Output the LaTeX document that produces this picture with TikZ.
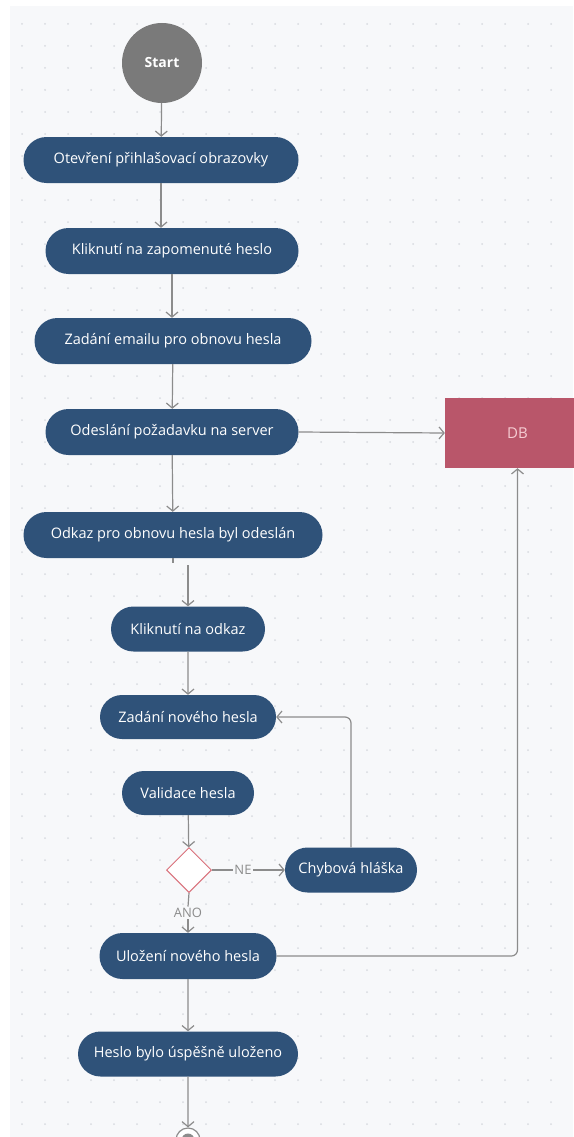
\documentclass[tikz,border=0pt]{standalone}
\usepackage{fontspec}
\setmainfont{Open Sans}
\usetikzlibrary{arrows.meta,shapes.geometric,shapes.misc}
\definecolor{boxblue}{HTML}{2F5279}
\definecolor{linegrey}{HTML}{8C8C8C}
\definecolor{startgrey}{HTML}{7A7A7A}
\definecolor{bggrey}{HTML}{F7F8FA}
\definecolor{dotgrey}{HTML}{D8DBE0}
\definecolor{dbred}{HTML}{B9566A}
\definecolor{dbtext}{HTML}{F6CDD3}
\definecolor{diared}{HTML}{D9707A}
\tikzset{
  stepbox/.style={rounded rectangle, fill=boxblue, text=white, font=\fontsize{14.5}{17}\selectfont, minimum height=46pt, inner xsep=6pt},
  conn/.style={draw=linegrey, line width=1.2pt, -{Straight Barb[length=5pt,width=12pt]}},
  plain/.style={draw=linegrey, line width=1.2pt},
  lbl/.style={text=linegrey, font=\fontsize{13}{15}\selectfont, inner sep=1.5pt}
}
\begin{document}
\begin{tikzpicture}[x=1pt,y=-1pt]
\useasboundingbox (0,0) rectangle (573,1137);
\fill[white] (0,0) rectangle (573,1137);
\fill[bggrey] (10,6) rectangle (573,1137);
\foreach \xx in {22,45,...,573}{
  \foreach \yy in {24,46,...,1137}{
    \fill[dotgrey] (\xx,\yy) circle (1pt);
  }
}
% nodes
\node[circle, fill=startgrey, minimum size=80pt, text=white, font=\fontsize{14}{16}\selectfont\bfseries] (start) at (162,63) {Start};
\node[stepbox, minimum width=287pt] (b1) at (161,160) {Otevření přihlašovací obrazovky};
\node[stepbox, minimum width=265pt] (b2) at (172,251) {Kliknutí na zapomenuté heslo};
\node[stepbox, minimum width=289pt] (b3) at (173,341) {Zadání emailu pro obnovu hesla};
\node[stepbox, minimum width=265pt] (b4) at (172,432) {Odeslání požadavku na server};
\node[rectangle, fill=dbred, text=dbtext, minimum width=145pt, minimum height=70pt, font=\fontsize{15}{17}\selectfont] (db) at (517.5,433) {DB};
\node[stepbox, minimum width=311pt] (b5) at (173,535) {Odkaz pro obnovu hesla byl odeslán};
\node[stepbox, minimum width=166pt, minimum height=45pt] (b6) at (188,629) {Kliknutí na odkaz};
\node[stepbox, minimum width=188pt, minimum height=44pt] (b7) at (188,717) {Zadání nového hesla};
\node[stepbox, minimum width=144pt, minimum height=44pt] (b8) at (188,793) {Validace hesla};
\node[diamond, draw=diared, fill=white, line width=1pt, minimum width=45pt, minimum height=45pt, inner sep=0pt] (dec) at (189,870) {};
\node[lbl] (ne) at (243,870) {NE};
\node[stepbox, minimum width=144pt, minimum height=45pt] (b9) at (351,870) {Chybová hláška};
\node[lbl] (ano) at (188,913) {ANO};
\node[stepbox, minimum width=189pt] (b10) at (188,956) {Uložení nového hesla};
\node[stepbox, minimum width=232pt, minimum height=45pt] (b11) at (188,1054) {Heslo bylo úspěšně uloženo};
\node[circle, draw=linegrey, line width=1.2pt, fill=white, minimum size=24pt, inner sep=0pt] (end) at (188,1140) {};
\node[circle, fill=linegrey, minimum size=13pt, inner sep=0pt] (endin) at (188,1140) {};
\coordinate (c6) at (188,565);
% connectors
\draw[conn] (start) -- (b1);
\draw[conn] (b1.south) -- (b1.south |- b2.north);
\draw[conn] (b2.south) -- (b2.south |- b3.north);
\draw[conn] (b3) -- (b4);
\draw[conn] (b4.east) -- (db.west);
\draw[conn] (b4) -- (b5);
\draw[plain] (b5.south) -- ++(0,5);
\draw[conn] (c6) -- (b6.north);
\draw[conn] (b6) -- (b7);
\draw[conn] (b8) -- (dec);
\draw[plain] (dec.east) -- (ne.west);
\draw[conn] (ne.east) -- (b9.west);
\draw[conn, rounded corners=6pt] (b9.north) |- (b7.east);
\draw[plain] (dec.south) -- (ano.north);
\draw[conn] (ano.south) -- (b10.north);
\draw[conn, rounded corners=6pt] (b10.east) -| (db.south);
\draw[conn] (b10) -- (b11);
\draw[conn] (b11) -- (end);
\end{tikzpicture}
\end{document}
